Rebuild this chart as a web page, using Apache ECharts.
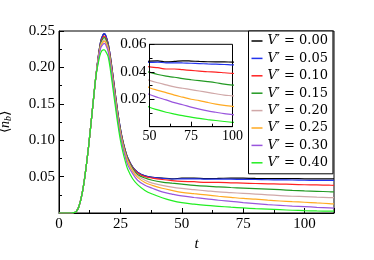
<!DOCTYPE html>
<html><head><meta charset="utf-8">
<script src="https://cdn.jsdelivr.net/npm/echarts@6/dist/echarts.min.js"></script>
<style>html,body{margin:0;padding:0;background:#fff}#c{width:374px;height:260px}</style>
</head><body><div id="c"></div>
<script>
const T = [0,5,6,7,8,9,10,11,12,13,14,15,16,17,18,18.5,19,20,21,22,23,24,25,26,27,28,30,32,35,38,42,46,50,55,60,65,70,75,80,85,90,95,100,105,110,112];
const rise = [0,0,0.0005,0.002,0.008,0.020,0.038,0.062,0.090,0.122,0.155,0.187];
const labels = ['0.00','0.05','0.10','0.15','0.20','0.25','0.30','0.40'];
const colors = ['#000000','#2233ee','#ff2222','#229922','#d0a8a8','#ffaa22','#9955dd','#22ee22'];
const v000 = rise.concat([0.215,0.236,0.245,0.246,0.244,0.233,0.213,0.188,0.162,0.137,0.116,0.099,0.086,0.076,0.063,0.056,0.051,0.049,0.048,0.047,0.0478,0.048,0.0472,0.0475,0.048,0.0478,0.0475,0.0473,0.0472,0.0472,0.047,0.047,0.047,0.047]);
const v005 = rise.concat([0.215,0.236,0.2455,0.2465,0.2445,0.233,0.213,0.188,0.162,0.137,0.116,0.099,0.086,0.076,0.063,0.056,0.051,0.049,0.0475,0.0467,0.0468,0.047,0.0465,0.0465,0.0464,0.0462,0.046,0.0457,0.0455,0.0453,0.045,0.0449,0.0448,0.0447]);
const v010 = rise.concat([0.214,0.234,0.242,0.243,0.241,0.231,0.211,0.186,0.160,0.135,0.114,0.098,0.085,0.075,0.062,0.055,0.050,0.048,0.046,0.0445,0.0435,0.043,0.042,0.042,0.0415,0.041,0.0405,0.040,0.0398,0.0393,0.0388,0.0385,0.0382,0.038]);
const v015 = rise.concat([0.213,0.233,0.240,0.241,0.239,0.229,0.209,0.184,0.158,0.134,0.113,0.097,0.084,0.074,0.061,0.053,0.048,0.045,0.0425,0.041,0.0397,0.038,0.0368,0.036,0.035,0.0342,0.0335,0.0328,0.032,0.031,0.0303,0.0298,0.0292,0.029]);
const v020 = rise.concat([0.212,0.231,0.237,0.238,0.236,0.227,0.207,0.182,0.156,0.132,0.111,0.095,0.082,0.072,0.059,0.051,0.045,0.041,0.038,0.0355,0.0337,0.032,0.0305,0.029,0.028,0.027,0.026,0.025,0.024,0.023,0.0225,0.0218,0.0212,0.021]);
const v025 = rise.concat([0.211,0.229,0.235,0.236,0.234,0.225,0.205,0.180,0.154,0.130,0.109,0.093,0.080,0.070,0.057,0.049,0.042,0.038,0.034,0.031,0.0284,0.0265,0.0248,0.023,0.0215,0.020,0.019,0.0177,0.0165,0.0155,0.0148,0.0138,0.013,0.0125]);
const v030 = rise.concat([0.210,0.227,0.232,0.233,0.231,0.222,0.202,0.177,0.151,0.127,0.106,0.090,0.077,0.066,0.054,0.045,0.038,0.034,0.029,0.026,0.0234,0.0213,0.0195,0.0175,0.016,0.0143,0.0128,0.0115,0.0105,0.0095,0.0088,0.0078,0.007,0.0068]);
const v040 = rise.concat([0.206,0.220,0.224,0.224,0.222,0.215,0.195,0.170,0.145,0.121,0.100,0.084,0.071,0.060,0.047,0.039,0.031,0.026,0.021,0.017,0.0142,0.0122,0.0105,0.0092,0.008,0.007,0.006,0.0052,0.0045,0.0038,0.0032,0.0028,0.0026,0.0025]);
const values = [v000,v005,v010,v015,v020,v025,v030,v040];

const serif = 'Liberation Serif';
const axisBase = {
  axisLine:{lineStyle:{color:'#000',width:1}},
  axisTick:{inside:true,length:5,lineStyle:{color:'#000'}},
  minorTick:{show:true,splitNumber:2,length:3,lineStyle:{color:'#000'}},
  splitLine:{show:false},
  axisLabel:{color:'#000',fontFamily:serif,fontSize:15,margin:4}
};
function ax(o){return Object.assign({}, JSON.parse(JSON.stringify(axisBase)), o, {axisLabel:Object.assign({}, axisBase.axisLabel, o.axisLabel||{})});}

const series = [];
values.forEach((vals,i)=>{
  const d = T.map((t,k)=>[t, vals[k]]);
  series.push({name:labels[i], type:'line', xAxisIndex:0, yAxisIndex:0, data:d, showSymbol:false, smooth:0.35, lineStyle:{width:1.2,color:colors[i]}, itemStyle:{color:colors[i]}, z:2});
});
values.forEach((vals,i)=>{
  const d = T.map((t,k)=>[t, vals[k]]).filter(p=>p[0]>=42);
  series.push({name:labels[i], type:'line', xAxisIndex:1, yAxisIndex:1, data:d, showSymbol:false, smooth:0.35, clip:true, lineStyle:{width:1.2,color:colors[i]}, itemStyle:{color:colors[i]}, z:5});
});

const chart = echarts.init(document.getElementById('c'), null, {renderer:'canvas'});
chart.setOption({
  animation:false,
  backgroundColor:'#fff',
  grid:[
    {left:59, top:31, right:40, bottom:47, containLabel:false, outerBoundsMode:'none', show:true, borderColor:'#000', borderWidth:1, backgroundColor:'transparent'},
    {left:149.5, top:44.3, width:83, height:82.4, containLabel:false, outerBoundsMode:'none', show:true, borderColor:'#000', borderWidth:1, backgroundColor:'#fff', z:4}
  ],
  xAxis:[
    ax({type:'value', gridIndex:0, min:0, max:112, interval:25, name:'t', nameLocation:'middle', nameGap:20,
      nameTextStyle:{fontFamily:serif, fontStyle:'italic', fontSize:15, color:'#000'},
      axisLabel:{showMaxLabel:false}}),
    ax({type:'value', gridIndex:1, min:50, max:100, interval:25, z:6, axisLabel:{fontSize:14,margin:3}})
  ],
  yAxis:[
    ax({type:'value', gridIndex:0, min:0, max:0.25, interval:0.05, name:'⟨{i|n}{s|b}⟩', nameLocation:'middle', nameGap:46, nameRotate:90,
      nameTextStyle:{fontFamily:serif, fontSize:14, color:'#000', rich:{i:{fontFamily:serif,fontStyle:'italic',fontSize:14,color:'#000'}, s:{fontFamily:serif,fontStyle:'italic',fontSize:10,color:'#000',verticalAlign:'bottom',padding:[6,0,0,0]}}},
      axisLabel:{formatter:v=> v===0 ? '' : v.toFixed(2)}}),
    ax({type:'value', gridIndex:1, min:0, max:0.06, interval:0.02, z:6,
      axisLabel:{fontSize:15,margin:3, formatter:v=> v===0 ? '' : v.toFixed(2)}})
  ],
  legend:{
    show:true, orient:'vertical', left:248.5, top:31, width:80,
    data:labels.map((l,i)=>({name:l, icon:'rect', itemStyle:{color:colors[i]}})),
    itemWidth:11, itemHeight:1.5, itemGap:3.4,
    padding:[3,5,4,3],
    backgroundColor:'#fff', borderColor:'#000', borderWidth:1,
    selectedMode:false,
    textStyle:{fontFamily:'DejaVu Serif', fontSize:13, lineHeight:14, color:'#000',
      rich:{i:{fontFamily:'DejaVu Serif', fontStyle:'italic', fontSize:13, color:'#000'}, n:{fontFamily:'DejaVu Serif', fontSize:13, color:'#000'}}},
    formatter:name=>'{i|V}{n|′ = '+name+'}',
    z:10
  },
  series:series
});
</script></body></html>
